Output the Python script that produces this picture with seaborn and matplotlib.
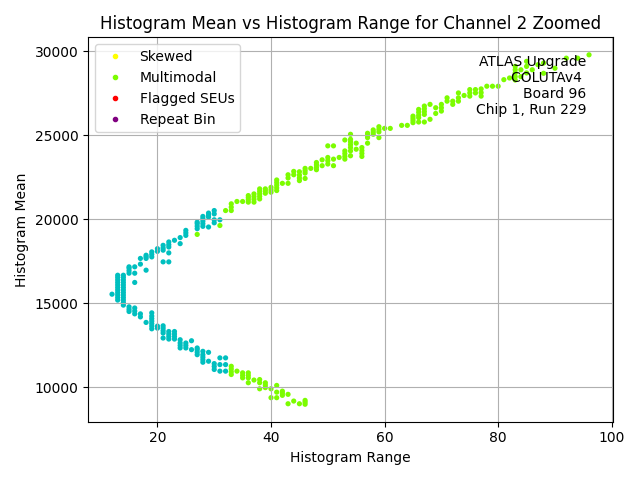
import numpy as np
import pandas as pd
import matplotlib
matplotlib.use("Agg")
import matplotlib.pyplot as plt
import seaborn as sns
from matplotlib.lines import Line2D

# histogram range (x) columns and the means seen in each column
cyan_ranges = [12, 13, 14, 15, 16, 17, 18, 19, 20, 21, 22, 23, 24, 25, 26, 27, 28, 29, 30, 31, 32]
cyan_means = [
    [15550],
    [15200, 15350, 15500, 15650, 15800, 15950, 16100, 16250, 16400, 16550, 16680],
    [14900, 15050, 15200, 15350, 15500, 15650, 15800, 15950, 16100, 16250, 16400, 16550, 16680],
    [16800, 16950, 17100, 17180, 14520, 14650, 14800],
    [16800, 17180, 16250, 14380, 14550, 14730],
    [17340, 17680, 14200, 14380],
    [17680, 17780, 17870, 16980, 13870],
    [17770, 17920, 18070, 13490, 13650, 13800, 13950, 14100, 14250, 14440],
    [18100, 18260, 13530, 13650],
    [18170, 18300, 18460, 17475, 13240, 13380, 13530, 13670, 12940],
    [18360, 18500, 18660, 18010, 17475, 12880, 13030, 13180, 13330],
    [18760, 12880, 13030, 13180, 13330],
    [18560, 18920, 12350, 12500, 12650, 12840],
    [19050, 19200, 19350, 12350, 12500, 12645],
    [12250, 12780],
    [19450, 19600, 19750, 19840, 11950, 12100, 12250, 12350],
    [19590, 19750, 19900, 20050, 20180, 11500, 11650, 11800, 11950, 12150],
    [19550, 20140, 20260, 20380, 11560, 12090],
    [19800, 19980, 20330, 20530, 11070, 11250, 11420],
    [19980, 11360, 11760, 10970],
    [11360, 11760, 10970],
]

green_ranges = [27, 31, 32, 33, 34, 35, 36, 37, 38, 39, 40, 41, 42, 43, 44, 45, 46, 47, 48, 49,
                50, 51, 52, 53, 54, 55, 56, 57, 58, 59, 60, 61, 63, 64, 65, 66, 67, 68, 69, 70,
                71, 72, 73, 74, 75, 76, 77, 78, 79, 80, 81, 82, 83, 84, 85, 86, 87, 88, 90, 92, 94, 96]
green_means = [
    [19110], [19640], [20530],
    [20530, 20730, 20930, 10770, 10930, 11100, 11260],
    [21070, 10970],
    [21070, 10570, 10720, 10870],
    [21030, 21170, 21300, 21420, 10570, 10720, 10870, 10280],
    [21030, 21200, 21360, 21520, 10440],
    [21220, 21370, 21520, 21670, 21820, 10280, 10470, 9920],
    [21560, 21700, 21820, 9990, 10140, 10280],
    [21620, 21760, 21910, 9920, 9390],
    [21720, 21880, 22040, 22200, 22350, 10120, 9720, 9390],
    [22150, 9530, 9660, 9780],
    [22150, 22470, 22660, 9590, 9030],
    [22660, 22860, 9190],
    [22310, 22470, 22640, 22840, 9030],
    [22440, 22760, 22900, 23040, 9000, 9120, 9230],
    [23040],
    [22960, 23100, 23250, 23390],
    [23200, 23550],
    [23300, 23500, 23690, 24380],
    [23200, 23590, 24380],
    [23690],
    [23590, 23750, 23920, 24080, 24730],
    [23790, 24080, 24280, 24450, 24620, 24770, 25070],
    [24180, 24540],
    [23750, 23930, 24100, 24280],
    [24540, 24870, 25000, 25130],
    [25070, 25200, 25330],
    [24870, 25210, 25360, 25520],
    [25420], [25420], [25600], [25600],
    [25760, 25890, 26020, 26150],
    [25800, 26060, 26200, 26380, 26550],
    [25800, 26250, 26420, 26590, 26750],
    [25960, 26850],
    [26310, 26650],
    [26450, 26650, 26850],
    [27040, 27240],
    [26850, 27040],
    [27040, 27240, 27530],
    [27380],
    [27340, 27530, 27730],
    [27530, 27730],
    [27340, 27550, 27770],
    [27930], [27930], [27930],
    [28320], [28420],
    [28300, 28500, 28720, 28910, 29110],
    [28500, 28910],
    [28720, 29110, 29410],
    [28910], [29210], [28700, 29310], [29000],
    [29600], [29600], [29800],
]

legend_labels = ["Skewed", "Multimodal", "Flagged SEUs", "Repeat Bin"]
legend_colors = ["yellow", "lawngreen", "red", "purple"]

rows = []
for r, ms in zip(cyan_ranges, cyan_means):
    for m in ms:
        rows.append((r, m, "Normal"))
for r, ms in zip(green_ranges, green_means):
    for m in ms:
        rows.append((r, m, "Multimodal"))
df = pd.DataFrame(rows, columns=["range", "mean", "kind"])

fig, ax = plt.subplots(figsize=(6.4, 4.8), dpi=100)
sns.scatterplot(data=df, x="range", y="mean", hue="kind",
                palette={"Normal": "c", "Multimodal": "lawngreen"},
                s=14, linewidth=0, legend=False, ax=ax)

handles = [Line2D([], [], marker="o", linestyle="", color=c, markersize=3)
           for c in legend_colors]
ax.legend(handles, legend_labels, loc="upper left")

ax.text(0.95, 0.955, "ATLAS Upgrade\nCOLUTAv4 \nBoard 96\nChip 1, Run 229",
        transform=ax.transAxes, ha="right", va="top", multialignment="right")

ax.grid(True)
ax.set_title("Histogram Mean vs Histogram Range for Channel 2 Zoomed")
ax.set_xlabel("Histogram Range")
ax.set_ylabel("Histogram Mean")
fig.tight_layout()
fig.savefig("out.png")
